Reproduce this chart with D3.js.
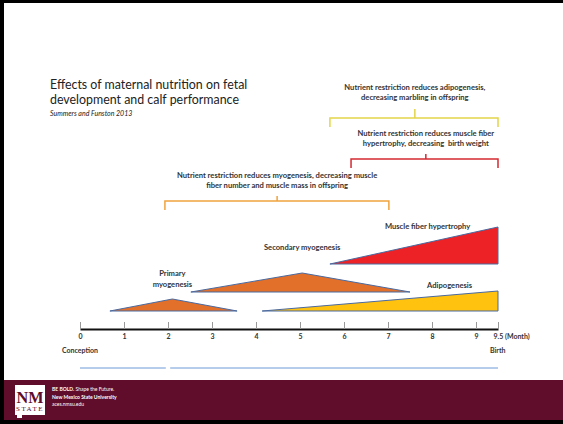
<!DOCTYPE html>
<html>
  <head>
    <title>Effects of maternal nutrition on fetal development</title>
    <script src="https://d3js.org/d3.v7.min.js"></script>
    <style>
      body { margin: 0; background: #fff; }
      svg { display: block; }
      .lbl { font-family: Lato, "Open Sans", sans-serif; font-weight: bold; fill: #333; white-space: pre; }
    </style>
  </head>
  <body>
    <script>
      // months along the gestation axis
      var tickValues = [0, 1, 2, 3, 4, 5, 6, 7, 8, 9, 9.5];
      var tickLabels = ["0", "1", "2", "3", "4", "5", "6", "7", "8", "9", "9.5 (Month)"];

      // developmental phases: [month, level] corners of each shape
      var phaseNames = ["Primary myogenesis", "Secondary myogenesis", "Muscle fiber hypertrophy", "Adipogenesis"];
      var phasePoints = [
        [[0.68, 19], [2.1, 31], [3.57, 19]],
        [[2.52, 38], [5.05, 57], [7.5, 38]],
        [[5.68, 66], [9.5, 103], [9.5, 66]],
        [[4.14, 19], [9.5, 39], [9.5, 19]]
      ];
      var phaseColors = ["#e2702a", "#e2702a", "#ec2227", "#ffc20e"];

      // effects of nutrient restriction: span in months
      var effectText = [
        ["Nutrient restriction reduces myogenesis, decreasing muscle", "fiber number and muscle mass in offspring"],
        ["Nutrient restriction reduces muscle fiber", "hypertrophy, decreasing  birth weight"],
        ["Nutrient restriction reduces adipogenesis,", "decreasing marbling in offspring"]
      ];
      var effectStart = [1.93, 6.16, 5.68];
      var effectEnd = [7.02, 9.5, 9.5];
      var effectMid = [4.48, 7.86, 7.61];
      var effectColors = ["#f0a33c", "#d42a30", "#e3d54a"];

      // the light blue periods under the axis
      var periodStart = [0, 2.05];
      var periodEnd = [1.95, 9.5];

      var W = 563, H = 424;
      var svg = d3.select("body").append("svg")
        .attr("width", W)
        .attr("height", H);

      svg.append("rect").attr("width", W).attr("height", H).attr("fill", "#fff");

      var x = d3.scaleLinear().domain([0, 9.5]).range([80, 498]);
      var y = d3.scaleLinear().domain([0, 100]).range([330, 230]);

      // title
      var title = svg.append("text")
        .attr("x", 50)
        .attr("y", 89)
        .style("font-family", "Lato, 'Open Sans', sans-serif")
        .style("font-size", "12.4px")
        .attr("fill", "#222");
      title.append("tspan").attr("x", 50).text("Effects of maternal nutrition on fetal");
      title.append("tspan").attr("x", 50).attr("dy", 15).text("development and calf performance");
      svg.append("text")
        .attr("x", 50)
        .attr("y", 116)
        .style("font-family", "Lato, 'Open Sans', sans-serif")
        .style("font-size", "7px")
        .style("font-style", "italic")
        .attr("fill", "#222")
        .text("Summers and Funston 2013");

      // phase triangles
      var line = d3.line()
        .x(function(d) { return x(d[0]); })
        .y(function(d) { return y(d[1]); });

      svg.selectAll(".phase")
        .data(phasePoints)
        .enter().append("path")
          .attr("class", "phase")
          .attr("d", function(d) { return line(d) + "Z"; })
          .attr("fill", function(d, i) { return phaseColors[i]; })
          .attr("stroke", "#4a6aa0")
          .attr("stroke-width", 1);

      // phase labels
      var labelPos = [[2.1, 43], [5.05, 80], [7.9, 101], [8.4, 42]];
      phaseNames.forEach(function(n, i) {
        var t = svg.append("text")
          .attr("class", "lbl")
          .attr("text-anchor", "middle")
          .style("font-size", "7.6px")
          .attr("x", x(labelPos[i][0]))
          .attr("y", y(labelPos[i][1]));
        if (i == 0) {
          t.append("tspan").attr("x", x(labelPos[i][0])).attr("dy", -11).text("Primary");
          t.append("tspan").attr("x", x(labelPos[i][0])).attr("dy", 11).text("myogenesis");
        } else {
          t.text(n);
        }
      });

      // brackets
      var bracketY = [201, 159, 118];
      effectText.forEach(function(lines, i) {
        var b = bracketY[i];
        var x0 = x(effectStart[i]), x1 = x(effectEnd[i]), xm = x(effectMid[i]);
        svg.append("path")
          .attr("d", "M" + x0 + "," + (b + 9) + "V" + b + "H" + x1 + "V" + (b + 9) +
                     "M" + xm + "," + b + "V" + (b - (i == 2 ? 9 : 5)))
          .attr("fill", "none")
          .attr("stroke", effectColors[i])
          .attr("stroke-width", 1.5);
        var t = svg.append("text")
          .attr("class", "lbl")
          .attr("text-anchor", "middle")
          .style("font-size", "7.6px")
          .attr("y", b - (i == 2 ? 28 : 23));
        t.append("tspan").attr("x", xm).text(lines[0]);
        t.append("tspan").attr("x", xm).attr("dy", 9.5).text(lines[1]);
      });

      // gestation axis
      var axis = svg.append("g")
        .attr("transform", "translate(0," + y(1) + ")")
        .call(d3.axisBottom(x)
          .tickValues(tickValues)
          .tickSizeInner(-7)
          .tickSizeOuter(0)
          .tickPadding(5)
          .tickFormat(function(d, i) { return tickLabels[i]; }));
      axis.select(".domain").attr("stroke", "#111").attr("stroke-width", 2);
      axis.selectAll(".tick line").attr("stroke", "#999");
      axis.selectAll(".tick text")
        .attr("class", "lbl")
        .style("font-size", "7px")
        .attr("fill", "#333");
      axis.selectAll(".tick:last-of-type text")
        .attr("text-anchor", "start")
        .attr("dx", "-5");

      svg.append("text").attr("class", "lbl").style("font-size", "7px")
        .attr("x", x(0) - 18).attr("y", 353).text("Conception");
      svg.append("text").attr("class", "lbl").style("font-size", "7px")
        .attr("x", x(9.5) - 8).attr("y", 353).text("Birth");

      svg.selectAll(".period")
        .data(periodStart)
        .enter().append("line")
          .attr("class", "period")
          .attr("x1", function(d) { return x(d); })
          .attr("x2", function(d, i) { return x(periodEnd[i]); })
          .attr("y1", 368)
          .attr("y2", 368)
          .attr("stroke", "#6c9bd6")
          .attr("stroke-width", 1);

      // slide frame and footer
      svg.append("rect").attr("x", 0).attr("y", 0).attr("width", W).attr("height", 3).attr("fill", "#000");
      svg.append("rect").attr("x", 0).attr("y", 0).attr("width", 4).attr("height", H).attr("fill", "#000");
      svg.append("rect").attr("x", 4).attr("y", 380).attr("width", W - 4).attr("height", 40).attr("fill", "#5f0d2b");
      svg.append("rect").attr("x", 0).attr("y", 420).attr("width", W).attr("height", 4).attr("fill", "#000");

      // NM State logo
      svg.append("path")
        .attr("d", "M15,385H45V415H22V418H17V415H15Z")
        .attr("fill", "#fff");
      svg.append("text")
        .attr("x", 30).attr("y", 403)
        .attr("text-anchor", "middle")
        .style("font-family", "'Liberation Serif', serif")
        .style("font-weight", "bold")
        .style("font-size", "16px")
        .attr("fill", "#5f0d2b")
        .attr("textLength", 27)
        .attr("lengthAdjust", "spacingAndGlyphs")
        .text("NM");
      svg.append("text")
        .attr("x", 30).attr("y", 411)
        .attr("text-anchor", "middle")
        .style("font-family", "'Liberation Serif', serif")
        .style("font-size", "7px")
        .attr("fill", "#5f0d2b")
        .attr("letter-spacing", "1.5")
        .text("STATE");

      var foot = svg.append("text")
        .attr("x", 52).attr("y", 391)
        .style("font-family", "Lato, sans-serif")
        .style("font-size", "5px")
        .attr("fill", "#fff");
      foot.append("tspan").style("font-weight", "bold").text("BE BOLD.");
      foot.append("tspan").text(" Shape the Future.");
      svg.append("text").attr("x", 52).attr("y", 398.5)
        .style("font-family", "Lato, sans-serif").style("font-size", "5px").style("font-weight", "bold")
        .attr("fill", "#fff").text("New Mexico State University");
      svg.append("text").attr("x", 52).attr("y", 406)
        .style("font-family", "Lato, sans-serif").style("font-size", "5px")
        .attr("fill", "#fff").text("aces.nmsu.edu");
    </script>
  </body>
</html>
